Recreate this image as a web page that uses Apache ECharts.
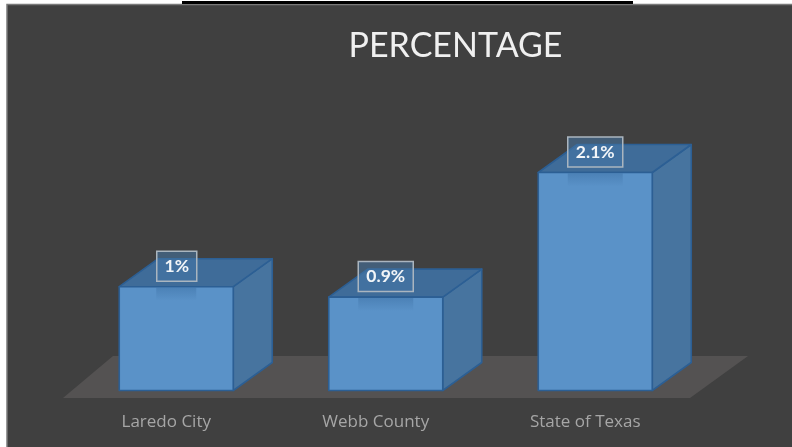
<!DOCTYPE html>
<html><head><meta charset="utf-8">
<style>html,body{margin:0;padding:0;background:#fff}#c{width:792px;height:447px}</style>
<script src="https://cdn.jsdelivr.net/npm/echarts@6/dist/echarts.min.js"></script>
</head><body><div id="c"></div>
<script>
const categories = ['Laredo City', 'Webb County', 'State of Texas'];
const values = [1, 0.9, 2.1];
const valueLabels = ['1%', '0.9%', '2.1%'];
const depthX = 39, depthY = 28, barW = 114;
const chart = echarts.init(document.getElementById('c'), null, {renderer:'canvas'});
function renderBar(params, api) {
  const i = api.value(0), v = api.value(1);
  const top = api.coord([i, v]), base = api.coord([i, 0]);
  const l = top[0] - barW / 2, r = top[0] + barW / 2, t = top[1], b = base[1];
  const stroke = {stroke:'#2c5f94', lineWidth:1.6, lineJoin:'round'};
  const label = valueLabels[params.dataIndex];
  const boxW = label.length > 2 ? 55 : 40, boxH = 30;
  const bx = top[0] - boxW / 2 + (label.length > 2 ? 0 : 0.5), by = t - 35.5;
  return {type:'group', children:[
    {type:'polygon', shape:{points:[[r,t],[r+depthX,t-depthY],[r+depthX,b-depthY],[r,b]]},
      style:{fill:'#47749f', ...stroke}},
    {type:'polygon', shape:{points:[[l,t],[l+depthX,t-depthY],[r+depthX,t-depthY],[r,t]]},
      style:{fill:'#3f6c99', ...stroke}},
    {type:'rect', shape:{x:l,y:t,width:barW,height:b-t},
      style:{fill:'#5a92c8', ...stroke}},
    {type:'rect', shape:{x:top[0]-boxW/2,y:t+1,width:boxW,height:13},
      style:{fill:new echarts.graphic.LinearGradient(0,0,0,1,[
        {offset:0,color:'rgba(43,92,143,0.3)'},{offset:1,color:'rgba(43,92,143,0)'}])}},
    {type:'rect', shape:{x:bx,y:by,width:boxW,height:boxH},
      style:{fill:'rgba(70,118,165,0.55)', stroke:'#aab5bf', lineWidth:1.5}},
    {type:'text', x:bx+boxW/2, y:by+boxH/2,
      style:{text:label, fill:'#f2f5f8', font:'bold 17.5px Lato', align:'center', verticalAlign:'middle'}}
  ]};
}
chart.setOption({
  animation:false,
  backgroundColor:'#ffffff',
  title:{text:'PERCENTAGE', left:450.5, top:24, textAlign:'center',
    textStyle:{color:'#f0f0f0', fontFamily:'Lato', fontSize:34, fontWeight:'normal'}},
  grid:{left:71.5, width:628.5, top:131, height:259.5},
  xAxis:{type:'category', data:categories, axisLine:{show:false}, axisTick:{show:false},
    axisLabel:{color:'#a6a6a6', fontFamily:'Open Sans', fontSize:17, margin:23, padding:[0,20,0,0]}},
  yAxis:{type:'value', min:0, max:2.5, show:false, splitLine:{show:false}},
  graphic:[
    {type:'rect', z:0, shape:{x:7,y:4.5,width:795,height:453}, style:{fill:'#404040', stroke:'#7a7a7a', lineWidth:1.5}},
    {type:'rect', z:1, shape:{x:182,y:1,width:451,height:3}, style:{fill:'#000'}},
    {type:'polygon', z:1, shape:{points:[[63,398],[690,398],[748,356],[113,356]]}, style:{fill:'#545252'}}
  ],
  series:[{type:'custom', renderItem:renderBar, data:values.map((v,i)=>[i,v]), clip:false, encode:{x:0,y:1}}]
});
</script></body></html>
